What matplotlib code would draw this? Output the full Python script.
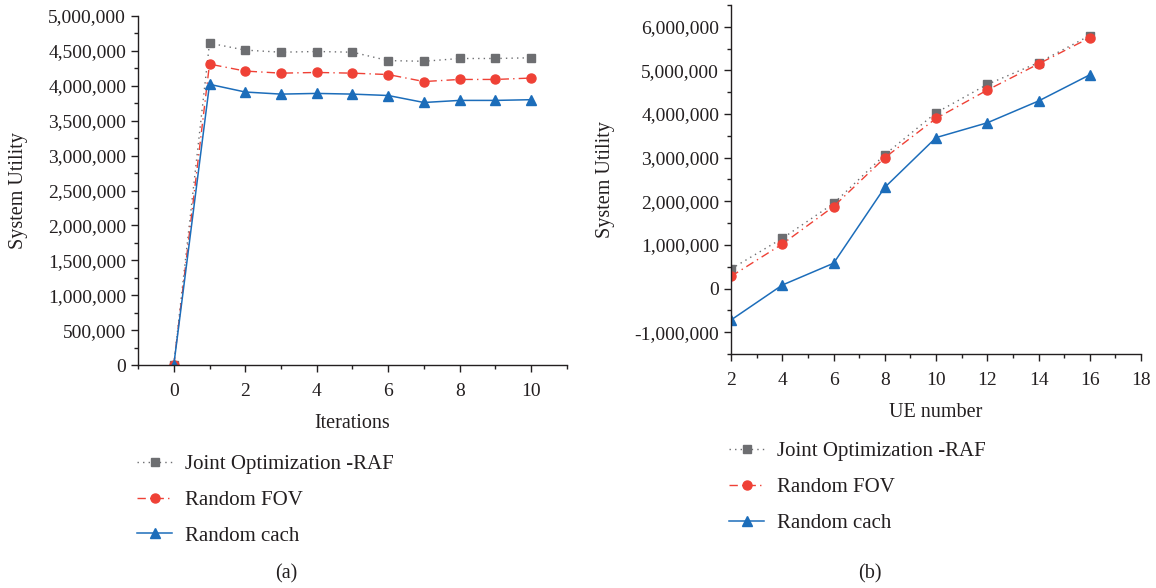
import numpy as np
import matplotlib.pyplot as plt
from matplotlib.ticker import FuncFormatter, MultipleLocator

plt.rcParams['font.family'] = ['Liberation Serif', 'DejaVu Serif']
plt.rcParams['font.size'] = 14

## data for panel (a)
iters = [0, 1, 2, 3, 4, 5, 6, 7, 8, 9, 10]
joint_a = [0, 4610000, 4510000, 4480000, 4490000, 4480000, 4360000, 4350000, 4390000, 4390000, 4400000]
fov_a = [0, 4310000, 4210000, 4180000, 4190000, 4180000, 4160000, 4060000, 4090000, 4090000, 4110000]
cach_a = [0, 4020000, 3910000, 3880000, 3890000, 3880000, 3860000, 3760000, 3790000, 3790000, 3800000]

## data for panel (b)
ue = [2, 4, 6, 8, 10, 12, 14, 16]
joint_b = [450000, 1150000, 1950000, 3070000, 4030000, 4680000, 5180000, 5800000]
fov_b = [280000, 1020000, 1880000, 3000000, 3900000, 4550000, 5150000, 5750000]
cach_b = [-720000, 80000, 580000, 2320000, 3460000, 3800000, 4300000, 4900000]

labels = ['Joint Optimization -RAF', 'Random FOV', 'Random cach']
gray = '#6d6e71'
red = '#ef4136'
blue = '#1c6dba'
txt = '#231f20'

fmt = FuncFormatter(lambda v, p: '{:,.0f}'.format(v))

fig = plt.figure(figsize=(11.56, 5.88), dpi=100)
ax1 = fig.add_axes([0.1194, 0.379, 0.371, 0.594])
ax2 = fig.add_axes([0.6324, 0.398, 0.3547, 0.5935])


def draw(ax, x, j, f, c):
	ax.plot(x, j, color=gray, ls=(0, (1, 3)), lw=1, marker='s', ms=6, label=labels[0])
	ax.plot(x, f, color=red, ls=(0, (6, 3, 1, 3)), lw=1, marker='o', ms=6.5, label=labels[1])
	ax.plot(x, c, color=blue, ls='-', lw=1.1, marker='^', ms=7, label=labels[2])
	for s in ['top', 'right']:
		ax.spines[s].set_visible(False)
	for s in ['left', 'bottom']:
		ax.spines[s].set_color(txt)
		ax.spines[s].set_linewidth(1)
	ax.yaxis.set_major_formatter(fmt)
	ax.tick_params(which='major', direction='out', length=5, width=1, color=txt, labelcolor=txt, labelsize=14)
	ax.tick_params(which='minor', direction='out', length=3, width=1, color=txt)
	ax.tick_params(axis='x', pad=8)
	ax.set_ylabel('System Utility', color=txt, fontsize=14.5)


draw(ax1, iters, joint_a, fov_a, cach_a)
ax1.set_xlim(-1, 11)
ax1.set_ylim(0, 5000000)
ax1.xaxis.set_major_locator(MultipleLocator(2))
ax1.xaxis.set_minor_locator(MultipleLocator(1))
ax1.yaxis.set_major_locator(MultipleLocator(500000))
ax1.yaxis.set_minor_locator(MultipleLocator(250000))
ax1.set_xlabel('Iterations', color=txt, fontsize=14.5, labelpad=10)
ax1.yaxis.set_label_coords(-0.256, 0.5)

draw(ax2, ue, joint_b, fov_b, cach_b)
ax2.set_xlim(2, 18)
ax2.set_ylim(-1500000, 6500000)
ax2.xaxis.set_major_locator(MultipleLocator(2))
ax2.xaxis.set_minor_locator(MultipleLocator(1))
ax2.yaxis.set_major_locator(MultipleLocator(1000000))
ax2.yaxis.set_minor_locator(MultipleLocator(500000))
ax2.set_xlabel('UE number', color=txt, fontsize=14.5, labelpad=10)
ax2.yaxis.set_label_coords(-0.283, 0.5)

h, l = ax1.get_legend_handles_labels()
kw = dict(loc='upper left', frameon=False, fontsize=15, handlelength=1.7, handletextpad=0.6,
	labelspacing=0.78, labelcolor=txt, borderpad=0, borderaxespad=0)
fig.legend(h, l, bbox_to_anchor=(0.1185, 0.227), **kw)
fig.legend(h, l, bbox_to_anchor=(0.6305, 0.249), **kw)

fig.text(0.2474, 0.017, '(a)', ha='center', color=txt, fontsize=14.5)
fig.text(0.7526, 0.017, '(b)', ha='center', color=txt, fontsize=14.5)

plt.savefig('out.png', dpi=100)
